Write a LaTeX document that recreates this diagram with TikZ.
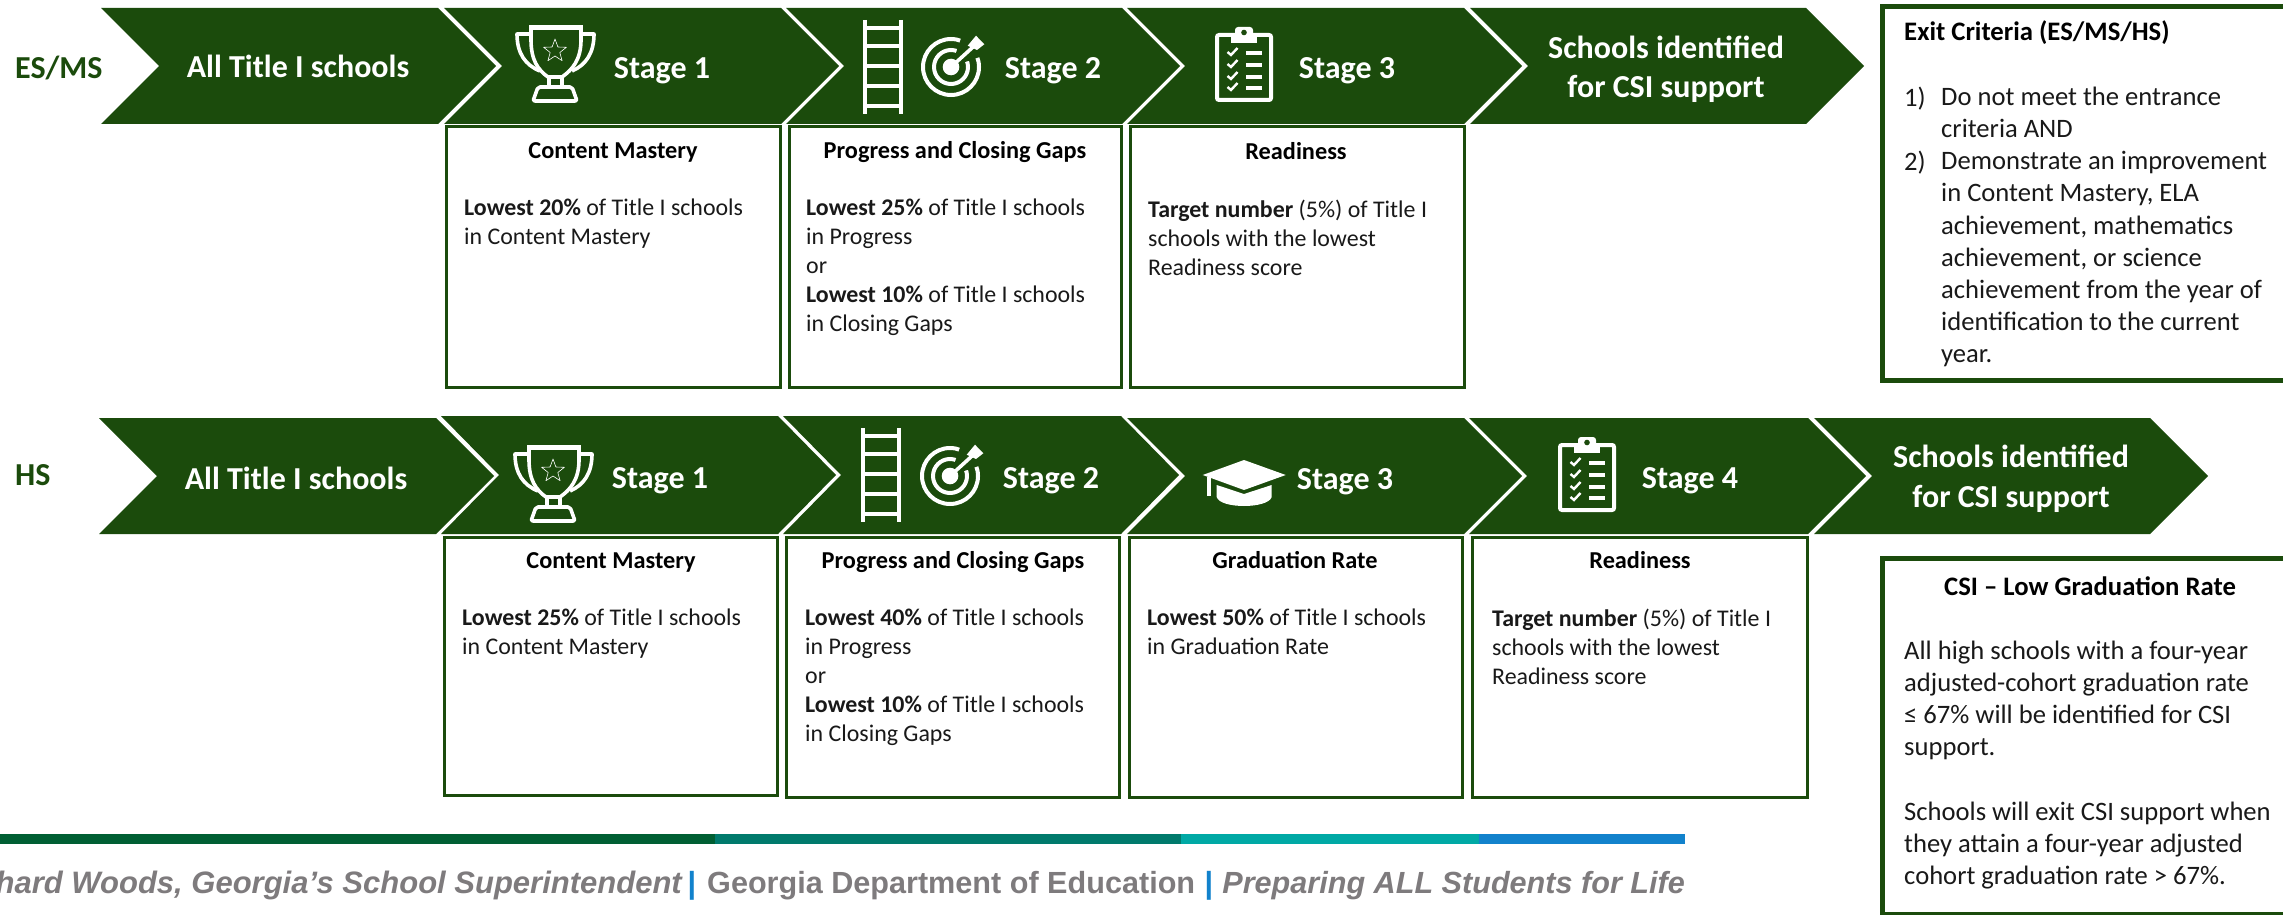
\documentclass[tikz,border=0pt]{standalone}
\usepackage{fontspec}
\setmainfont{Carlito}
\newfontfamily\footfont{Liberation Sans}
\definecolor{csigreen}{HTML}{1B4B0C}
\definecolor{footgray}{HTML}{7E7B7D}
\definecolor{pipeblue}{HTML}{1282CC}
\definecolor{stripa}{HTML}{005F33}
\definecolor{stripb}{HTML}{007A6C}
\definecolor{stripc}{HTML}{00A9A5}

% one arrow of the band: left, right, top, bottom
\newcommand{\chevron}[4]{\fill[csigreen] (#1,#3) -- (#2,#3) -- ({#2+58},{(#3+#4)/2}) -- (#2,#4) -- (#1,#4) -- ({#1+58},{(#3+#4)/2}) -- cycle;}

\begin{document}
\begin{tikzpicture}[x=1pt,y=-1pt,
    rowlabel/.style={font=\fontsize{32}{38}\selectfont\bfseries,text=csigreen,inner sep=0,anchor=base west},
    bandtext/.style={font=\fontsize{32}{39.5}\selectfont\bfseries,text=white,inner sep=0,anchor=base},
    bandtwo/.style={font=\fontsize{32}{39.5}\selectfont\bfseries,text=white,inner sep=0,align=center},
    critbox/.style={draw=csigreen,line width=3,fill=white,anchor=north west,outer sep=0,inner sep=0,minimum height=260},
    headtext/.style={font=\fontsize{24.3}{29}\selectfont\bfseries,text=black,inner sep=0,anchor=base},
    bodytext/.style={font=\fontsize{23.9}{29}\selectfont,text=black!90,inner sep=0,anchor=north west,align=left},
    sidebox/.style={draw=csigreen,line width=5,fill=white,anchor=north west,outer sep=0,inner sep=0,minimum width=500},
    sidetext/.style={font=\fontsize{26.6}{32.1}\selectfont,text=black!90,inner sep=0,anchor=north west,align=left},
    foottext/.style={inner sep=0,text=footgray,font=\footfont\fontsize{30.6}{38}\selectfont\bfseries},
    trophyicon/.pic={
        \begin{scope}[white,line width=3.6,line join=round]
            \draw (31,13) -- (31,25) .. controls (31,45) and (38,55) .. (48,62) -- (62,62) .. controls (72,55) and (81,45) .. (81,25) -- (81,13) -- cycle;
            \draw (29,12) -- (83,12);
            \draw (30,19) -- (17,19) .. controls (17,38) and (25,50) .. (40,56);
            \draw (82,19) -- (94,19) .. controls (94,38) and (86,50) .. (72,56);
            \draw (49,62) -- (49,72) (62,62) -- (62,72);
            \draw[rounded corners=2] (38,72) -- (72,72) -- (77,86) -- (33,86) -- cycle;
            \draw[line width=0.6] (55,24) -- (57.9,32) -- (66.4,32.3) -- (59.8,37.5) -- (62.1,45.7) -- (55,41) -- (47.9,45.7) -- (50.2,37.5) -- (43.6,32.3) -- (52.1,32) -- cycle;
        \end{scope}
    },
    laddericon/.pic={
        \draw[white,line width=4] (0,0) -- (0,94) (36,0) -- (36,94)
            (0,8) -- (36,8) (0,26) -- (36,26) (0,46) -- (36,46) (0,66) -- (36,66) (0,86) -- (36,86);
    },
    targeticon/.pic={
        \draw[white,line width=4] (0,0) circle[radius=28] (0,0) circle[radius=17];
        \fill[csigreen] (0,0) -- (37,-13) -- (13,-37) -- cycle;
        \fill[white] (0,0) circle[radius=8.3];
        \draw[white,line width=3.6] (0,0) -- (22,-20);
        \fill[white] (25,-31.3) -- (33.3,-22.7) -- (26,-17) -- (16.7,-21.3) -- cycle;
    },
    clipicon/.pic={
        \draw[white,line width=4,rounded corners=2] (17,20) rectangle (71,85);
        \fill[white] (31,21) rectangle (57,28);
        \fill[white,rounded corners=3] (35,12) rectangle (53,24);
        \fill[csigreen] (44,17.5) circle[radius=2.8];
        \foreach \yy in {38,50,62,73} {
            \draw[white,line width=2.4] (27.5,\yy-1) -- (31,\yy+2) -- (37.5,\yy-5);
            \draw[white,line width=3.4] (46,\yy) -- (62,\yy);
        }
    },
    capicon/.pic={
        \fill[white] (12.7,30) -- (54,15) -- (95.7,30) -- (54,45) -- cycle;
        \fill[white] (17.3,32) rectangle (20.6,51);
        \fill[white] (26.7,40) -- (54,49) -- (81.7,40) -- (81.7,52) .. controls (78,64) and (30,64) .. (26.7,52) -- cycle;
    }]
    \path[use as bounding box] (0,0) rectangle (2283,915);
    \clip (0,0) rectangle (2283,915);

    % ES/MS band
    \chevron{101}{438}{8}{124}
    \chevron{444}{781}{8}{124}
    \chevron{786}{1122}{8}{124}
    \chevron{1127}{1464}{8}{124}
    \chevron{1470}{1806}{8}{124}

    % HS band
    \chevron{99}{436}{418}{534}
    \chevron{441}{778}{416}{534}
    \chevron{783}{1121}{416}{534}
    \chevron{1127}{1464}{418}{534}
    \chevron{1469}{1808}{418}{534}
    \chevron{1814}{2150}{418}{534}

    \node[rowlabel] (esms) at (15,78.5) {ES/MS};
    \node[rowlabel] (hs) at (15,485) {HS};

    \node[bandtext] (a1) at (298,78) {All Title I schools};
    \node[bandtext] (a2) at (662,79) {Stage 1};
    \node[bandtext] (a3) at (1053,79) {Stage 2};
    \node[bandtext] (a4) at (1347,79) {Stage 3};
    \node[bandtwo] (a5) at (1666,69.5) {Schools identified\\for CSI support};

    \node[bandtext] (xa1) at (296,489) {All Title I schools};
    \node[bandtext] (xa2) at (660,488) {Stage 1};
    \node[bandtext] (xa3) at (1051,488) {Stage 2};
    \node[bandtext] (xa4) at (1345,489) {Stage 3};
    \node[bandtext] (xa5) at (1690,488) {Stage 4};
    \node[bandtwo] (xa6) at (2011,479) {Schools identified\\for CSI support};

    \pic at (500,15) {trophyicon};
    \pic at (865,20) {laddericon};
    \pic at (951,67) {targeticon};
    \pic at (1200,15) {clipicon};

    \pic at (498,435) {trophyicon};
    \pic at (863,428) {laddericon};
    \pic at (950,476) {targeticon};
    \pic at (1190,445) {capicon};
    \pic at (1543,425) {clipicon};

    % ES/MS boxes
    \node[critbox,minimum width=334] (b1) at (446,127) {};
    \node[critbox,minimum width=332] (b2) at (789,127) {};
    \node[critbox,minimum width=334] (b3) at (1130,127) {};

    \node[headtext] (h1) at (613,158.7) {Content Mastery};
    \node[headtext] (h2) at (955,158.7) {Progress and Closing Gaps};
    \node[headtext] (h3) at (1296,159) {Readiness};

    \node[bodytext] (t1) at (464,198.5) {\textbf{Lowest 20\%} of Title I schools\\in Content Mastery};
    \node[bodytext] (t2) at (806,198.5) {\textbf{Lowest 25\%} of Title I schools\\in Progress\\or\\\textbf{Lowest 10\%} of Title I schools\\in Closing Gaps};
    \node[bodytext] (t3) at (1148,199.5) {\textbf{Target number} (5\%) of Title I\\schools with the lowest\\Readiness score};

    % HS boxes
    \node[critbox,minimum width=333,minimum height=258] (xb1) at (444,537) {};
    \node[critbox,minimum width=333] (xb2) at (786,537) {};
    \node[critbox,minimum width=333] (xb3) at (1129,537) {};
    \node[critbox,minimum width=335] (xb4) at (1472,537) {};

    \node[headtext] (xh1) at (611,568.2) {Content Mastery};
    \node[headtext] (xh2) at (953,568.2) {Progress and Closing Gaps};
    \node[headtext] (xh3) at (1295,568.2) {Graduation Rate};
    \node[headtext] (xh4) at (1640,568.2) {Readiness};

    \node[bodytext] (xt1) at (462,608.5) {\textbf{Lowest 25\%} of Title I schools\\in Content Mastery};
    \node[bodytext] (xt2) at (805,608.5) {\textbf{Lowest 40\%} of Title I schools\\in Progress\\or\\\textbf{Lowest 10\%} of Title I schools\\in Closing Gaps};
    \node[bodytext] (xt3) at (1147,608.5) {\textbf{Lowest 50\%} of Title I schools\\in Graduation Rate};
    \node[bodytext] (xt4) at (1492,608.5) {\textbf{Target number} (5\%) of Title I\\schools with the lowest\\Readiness score};

    % side boxes
    \node[sidebox,minimum height=374] (exit) at (1882.5,6.5) {};
    \node[inner sep=0,anchor=base west,font=\fontsize{26.7}{32}\selectfont\bfseries] (exith) at (1904,41) {Exit Criteria (ES/MS/HS)};
    \node[sidetext] (exitn) at (1904,87) {1)\\\\2)};
    \node[sidetext] (exitt) at (1941,87) {Do not meet the entrance\\criteria AND\\Demonstrate an improvement\\in Content Mastery, ELA\\achievement, mathematics\\achievement, or science\\achievement from the year of\\identification to the current\\year.};

    \node[sidebox,minimum height=356] (low) at (1882.5,558.5) {};
    \node[inner sep=0,anchor=base,font=\fontsize{26.7}{32}\selectfont\bfseries] (lowh) at (2090,595) {CSI – Low Graduation Rate};
    \node[sidetext] (lowt) at (1904,641) {All high schools with a four-year\\adjusted-cohort graduation rate\\≤ 67\% will be identified for CSI\\support.\\[32.1pt]Schools will exit CSI support when\\they attain a four-year adjusted\\cohort graduation rate > 67\%.};

    % footer strip
    \fill[stripa] (0,834) rectangle (715,844);
    \fill[stripb] (715,834) rectangle (1181,844);
    \fill[stripc] (1181,834) rectangle (1479,844);
    \fill[pipeblue] (1479,834) rectangle (1685,844);

    \node[foottext,anchor=base east,font=\footfont\fontsize{31}{38}\selectfont\bfseries] (foota) at (683,893) {\textit{hard Woods, Georgia’s School Superintendent}};
    \node[foottext,anchor=base,text=pipeblue] (pipea) at (692,893) {|};
    \node[foottext,anchor=base west] (footb) at (707,893) {Georgia Department of Education};
    \node[foottext,anchor=base,text=pipeblue] (pipeb) at (1209,893) {|};
    \node[foottext,anchor=base east] (footc) at (1685,893) {\textit{Preparing ALL Students for Life}};
\end{tikzpicture}
\end{document}
